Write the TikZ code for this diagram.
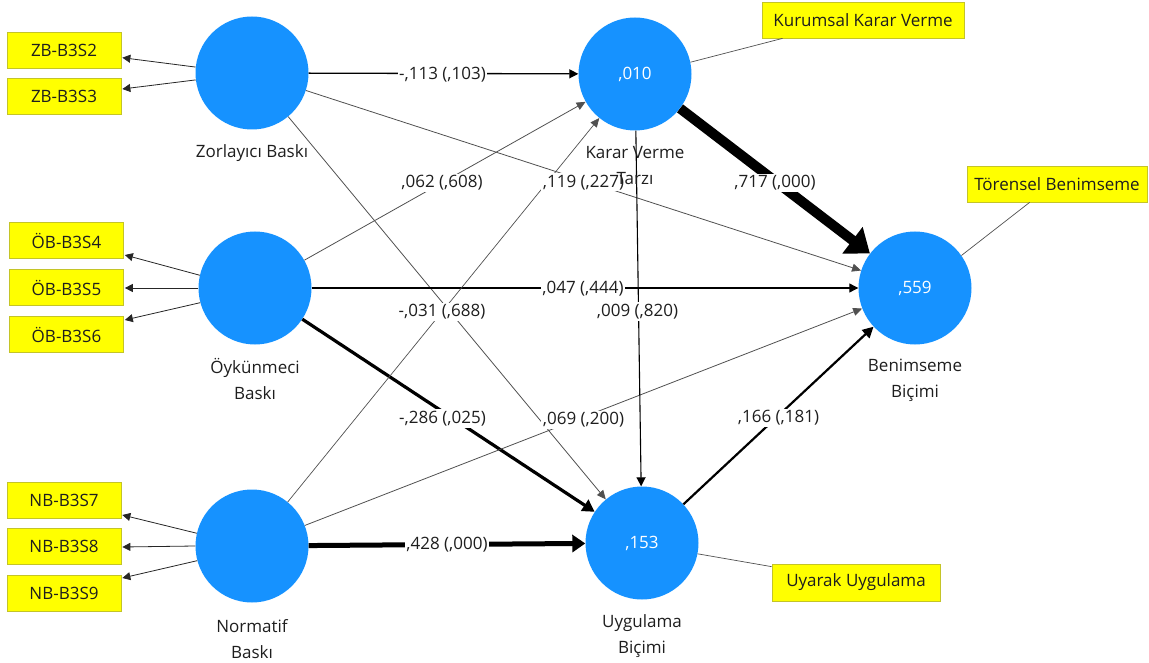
\documentclass[tikz,border=0pt]{standalone}
\usepackage{fontspec}
\setmainfont{Open Sans}
\usetikzlibrary{arrows.meta,calc}
\definecolor{latblue}{RGB}{22,146,255}
\definecolor{boxyellow}{RGB}{255,255,0}
\definecolor{boxedge}{RGB}{196,196,40}
\definecolor{thingray}{RGB}{80,80,80}
\definecolor{txt}{RGB}{30,30,30}
\begin{document}
\begin{tikzpicture}[x=1pt,y=-1pt,
  every node/.style={font=\fontsize{17}{26}\selectfont},
  lat/.style={circle, fill=latblue, minimum size=113pt, inner sep=0pt, text=white},
  ind/.style={rectangle, fill=boxyellow, draw=boxedge, line width=0.7pt, minimum width=114pt, minimum height=36pt, inner sep=0pt, text=txt},
  nm/.style={align=center, text=txt, inner sep=0pt},
  coef/.style={fill=white, inner sep=1.5pt, text=txt},
  load/.style={draw=black!85, line width=0.8pt, -{Triangle[length=8pt,width=8pt]}},
  conn/.style={draw=thingray, line width=0.7pt},
  thinp/.style={draw=thingray, line width=0.8pt, -{Triangle[length=9pt,width=8pt]}},
  blackp/.style={draw=black, line width=#1, -{Triangle[length=9pt,width=9pt]}},
]
\useasboundingbox (0,0) rectangle (1149,663);

% latent variables
\node[lat] (zb)  at (252,73)  {};
\node[lat] (ob)  at (255,288) {};
\node[lat] (nb)  at (252,546) {};
\node[lat] (kvt) at (635,74)  {,010};
\node[lat] (ub)  at (642,543) {,153};
\node[lat] (bb)  at (915,288) {,559};

% indicator boxes
\node[ind] (zb2) at (64,50)    {ZB-B3S2};
\node[ind] (zb3) at (64,96.5)  {ZB-B3S3};
\node[ind] (ob4) at (66.5,240.5) {ÖB-B3S4};
\node[ind] (ob5) at (66.5,287.5) {ÖB-B3S5};
\node[ind] (ob6) at (66.5,334.5) {ÖB-B3S6};
\node[ind] (nb7) at (64,500)   {NB-B3S7};
\node[ind] (nb8) at (64,546)   {NB-B3S8};
\node[ind] (nb9) at (64,593.5) {NB-B3S9};
\node[ind, minimum width=202pt] (kkv) at (863,20)   {Kurumsal Karar Verme};
\node[ind, minimum width=180pt] (tb)  at (1057,184) {Törensel Benimseme};
\node[ind, minimum width=168pt, minimum height=37pt] (uu) at (856,582.5) {Uyarak Uygulama};

% loadings
\draw[load] (zb.174) -- ($(zb2.east)+(1,7.7)$);
\draw[load] (zb.187) -- ($(zb3.east)+(1,-7.5)$);
\draw[load] (ob.167) -- ($(ob4.east)+(1,14.5)$);
\draw[load] (ob.180) -- ($(ob5.east)+(1,0.5)$);
\draw[load] (ob.195) -- ($(ob6.east)+(1,-14.5)$);
\draw[load] (nb.167) -- ($(nb7.east)+(1,15)$);
\draw[load] (nb.180) -- ($(nb8.east)+(1,1)$);
\draw[load] (nb.195) -- ($(nb9.east)+(1,-15.5)$);

% connectors to single indicators
\draw[conn] (kvt.12) -- ($(kkv.south west)+(21,0)$);
\draw[conn] (bb.35) -- ($(tb.south west)+(63,0)$);
\draw[conn] (ub.-11) -- ($(uu.north west)+(0,3)$);

% structural paths
\draw[blackp=1.3pt] (zb) -- coordinate (c1) (kvt);
\draw[thinp] (zb) -- coordinate (c2) (bb);
\draw[thinp] (zb) -- coordinate (c3) (ub);
\draw[thinp] (ob) -- coordinate (c4) (kvt);
\draw[blackp=1.1pt] (ob) -- coordinate (c5) (bb);
\draw[draw=black, line width=3.2pt, -{Triangle[length=12pt,width=13pt]}] (ob) -- coordinate (c6) (ub);
\draw[thinp, line width=0.7pt] (nb) -- (kvt);
\draw[thinp] (nb) -- coordinate (c8) (bb);
\draw[draw=black, line width=5pt, -{Triangle[length=13pt,width=17pt]}] (nb) -- coordinate (c9) (ub);
\draw[draw=black, line width=10pt, -{Triangle[length=22pt,width=32pt]}] (kvt) -- coordinate (c10) (bb);
\draw[blackp=1.1pt] (kvt) -- coordinate (c11) (ub);
\draw[draw=black, line width=2.2pt, -{Triangle[length=11pt,width=11pt]}] (ub) -- coordinate (c12) (bb);

% coefficient labels
\node[coef] at ($(c1)+(-1,1)$)  {-,113 (,103)};
\node[coef] at ($(c2)+(0,2)$)   {,119 (,227)};
\node[coef] at ($(c3)+(-5,4)$)  {-,031 (,688)};
\node[coef] at ($(c4)+(-3,2)$)  {,062 (,608)};
\node[coef] at ($(c5)+(-2,1)$)  {,047 (,444)};
\node[coef] at ($(c6)+(-6,3)$)  {-,286 (,025)};
\node[coef] at ($(c8)+(0,3)$)   {,069 (,200)};
\node[coef] at ($(c9)+(0,0)$)   {,428 (,000)};
\node[coef] at ($(c10)+(0,2)$)  {,717 (,000)};
\node[coef] at ($(c11)+(-1,3)$) {,009 (,820)};
\node[coef] at ($(c12)+(0,2)$)  {,166 (,181)};

% latent names
\node[nm] (zbn)  at (252,153) {Zorlayıcı Baskı};
\node[nm] (obn)  at (255,379) {Öykünmeci\\Baskı};
\node[nm] (nbn)  at (252,639) {Normatif\\Baskı};
\node[nm] (kvtn) at (635,166) {Karar Verme\\Tarzı};
\node[nm] (ubn)  at (642,636) {Uygulama\\Biçimi};
\node[nm] (bbn)  at (915,380) {Benimseme\\Biçimi};
\end{tikzpicture}
\end{document}
